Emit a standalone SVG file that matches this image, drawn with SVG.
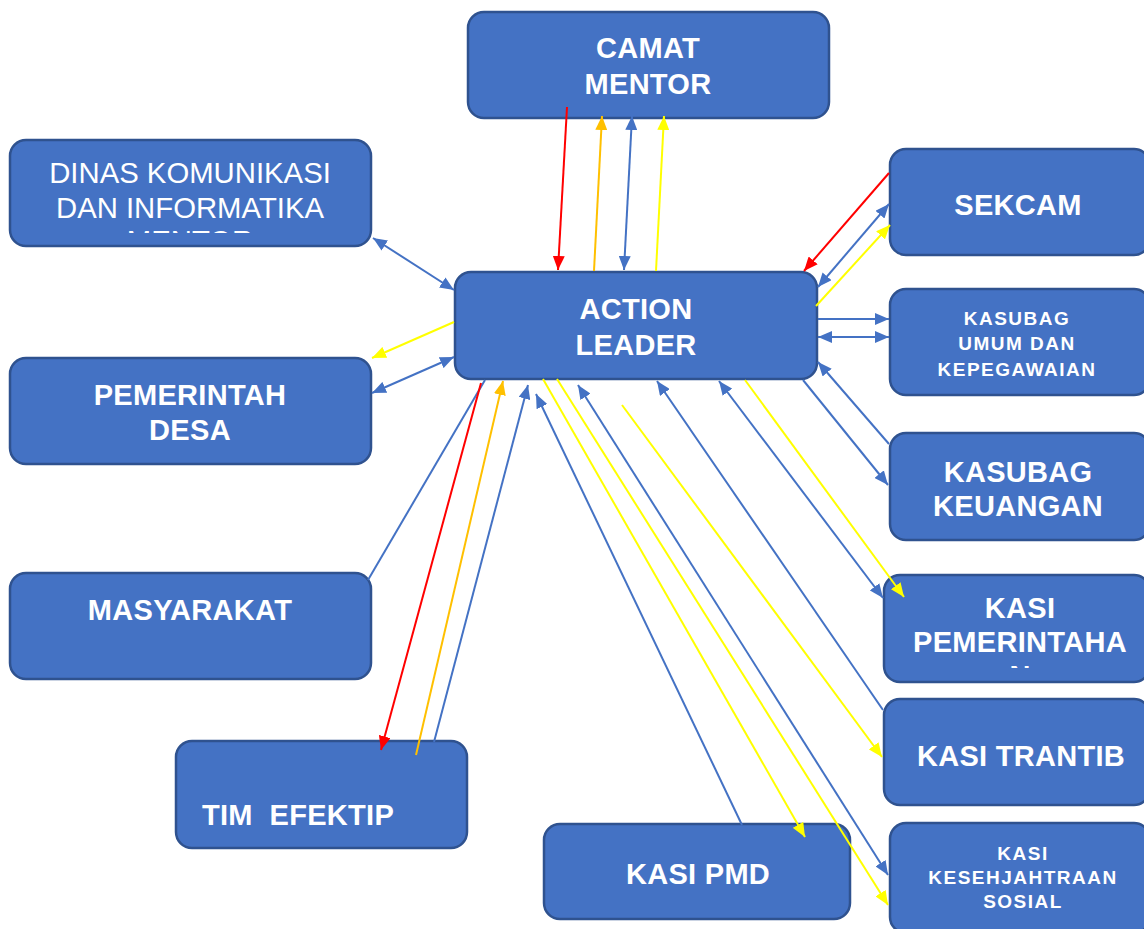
<svg xmlns="http://www.w3.org/2000/svg" width="1144" height="929" viewBox="0 0 1144 929">
<style>
.box{fill:#4472C4;stroke:#2F528F;stroke-width:2.5}
.t{font-family:"Liberation Sans",Arial,sans-serif;font-weight:bold;font-size:29px;letter-spacing:0.3px;fill:#fff;text-anchor:middle}
.tn{font-family:"Liberation Sans",Arial,sans-serif;font-size:29.3px;fill:#fff;text-anchor:middle}
.ts{font-family:"Liberation Sans",Arial,sans-serif;font-weight:bold;font-size:19px;letter-spacing:1.5px;fill:#fff;text-anchor:middle}
.c{fill:none;stroke-width:2}
.b{stroke:#4472C4}.r{stroke:#FF0000}.o{stroke:#FFC000}.y{stroke:#FFFF00}
</style>
<defs>
<marker id="mb" viewBox="0 0 14 12" refX="14" refY="6" markerWidth="14" markerHeight="12" markerUnits="userSpaceOnUse" orient="auto-start-reverse"><path d="M0,0 L14,6 L0,12 z" fill="#4472C4"/></marker>
<marker id="mr" viewBox="0 0 14 12" refX="14" refY="6" markerWidth="14" markerHeight="12" markerUnits="userSpaceOnUse" orient="auto-start-reverse"><path d="M0,0 L14,6 L0,12 z" fill="#FF0000"/></marker>
<marker id="mo" viewBox="0 0 14 12" refX="14" refY="6" markerWidth="14" markerHeight="12" markerUnits="userSpaceOnUse" orient="auto-start-reverse"><path d="M0,0 L14,6 L0,12 z" fill="#FFC000"/></marker>
<marker id="my" viewBox="0 0 14 12" refX="14" refY="6" markerWidth="14" markerHeight="12" markerUnits="userSpaceOnUse" orient="auto-start-reverse"><path d="M0,0 L14,6 L0,12 z" fill="#FFFF00"/></marker>
<clipPath id="clipDinas"><rect x="10" y="140" width="362" height="93"/></clipPath>
<clipPath id="clipPem"><rect x="884" y="575" width="260" height="93"/></clipPath>
</defs>
<rect width="1144" height="929" fill="#fff"/>

<g id="camat"><rect class="box" x="468" y="12" width="361" height="106" rx="16"/>
<text class="t" x="648" y="58">CAMAT</text><text class="t" x="648" y="94">MENTOR</text></g>

<g id="dinas"><rect class="box" x="10" y="140" width="361" height="106" rx="16"/>
<g clip-path="url(#clipDinas)"><text class="tn" x="190" y="183">DINAS KOMUNIKASI</text><text class="tn" x="190" y="218">DAN INFORMATIKA</text><text class="tn" x="190" y="251">MENTOR</text></g></g>

<g id="action"><rect class="box" x="455" y="272" width="362" height="107" rx="16"/>
<text class="t" x="636" y="319">ACTION</text><text class="t" x="636" y="355">LEADER</text></g>

<g id="desa"><rect class="box" x="10" y="358" width="361" height="106" rx="16"/>
<text class="t" x="190" y="405">PEMERINTAH</text><text class="t" x="190" y="440">DESA</text></g>

<g id="masyarakat"><rect class="box" x="10" y="573" width="361" height="106" rx="16"/>
<text class="t" x="190" y="620">MASYARAKAT</text></g>

<g id="tim"><rect class="box" x="176" y="741" width="291" height="107" rx="16"/>
<text class="t" x="202" y="825" style="text-anchor:start" xml:space="preserve">TIM  EFEKTIP</text></g>

<g id="pmd"><rect class="box" x="544" y="824" width="306" height="95" rx="16"/>
<text class="t" x="698" y="884">KASI PMD</text></g>

<g id="sekcam"><rect class="box" x="890" y="149" width="260" height="106" rx="16"/>
<text class="t" x="1018" y="215">SEKCAM</text></g>

<g id="umum"><rect class="box" x="890" y="289" width="260" height="106" rx="16"/>
<text class="ts" x="1017" y="325">KASUBAG</text><text class="ts" x="1017" y="350">UMUM DAN</text><text class="ts" x="1017" y="376">KEPEGAWAIAN</text></g>

<g id="keuangan"><rect class="box" x="890" y="433" width="260" height="107" rx="16"/>
<text class="t" x="1018" y="482">KASUBAG</text><text class="t" x="1018" y="516">KEUANGAN</text></g>

<g id="pemerintahan"><rect class="box" x="884" y="575" width="266" height="107" rx="16"/>
<g clip-path="url(#clipPem)"><text class="t" x="1020" y="618">KASI</text><text class="t" x="1020" y="652">PEMERINTAHA</text><text class="t" x="1020" y="686">N</text></g></g>

<g id="trantib"><rect class="box" x="884" y="699" width="266" height="106" rx="16"/>
<text class="t" x="1021" y="766">KASI TRANTIB</text></g>

<g id="kesos"><rect class="box" x="890" y="823" width="260" height="110" rx="16"/>
<text class="ts" x="1023" y="860">KASI</text><text class="ts" x="1023" y="884">KESEHJAHTRAAN</text><text class="ts" x="1023" y="908">SOSIAL</text></g>

<g id="connectors">
<line class="c r" x1="567" y1="107" x2="558" y2="270" marker-end="url(#mr)"/>
<line class="c o" x1="594" y1="271" x2="602" y2="116" marker-end="url(#mo)"/>
<line class="c b" x1="624" y1="270" x2="632" y2="116" marker-start="url(#mb)" marker-end="url(#mb)"/>
<line class="c y" x1="656" y1="271" x2="664" y2="116" marker-end="url(#my)"/>

<line class="c b" x1="373" y1="238" x2="454" y2="290" marker-start="url(#mb)" marker-end="url(#mb)"/>
<line class="c y" x1="454" y1="322" x2="372" y2="358" marker-end="url(#my)"/>
<line class="c b" x1="454" y1="357" x2="372" y2="393" marker-start="url(#mb)" marker-end="url(#mb)"/>

<line class="c b" x1="368" y1="580" x2="485" y2="380"/>
<line class="c r" x1="481" y1="383" x2="381" y2="750" marker-end="url(#mr)"/>
<line class="c o" x1="416" y1="755" x2="503" y2="381" marker-end="url(#mo)"/>
<line class="c b" x1="434" y1="742" x2="528" y2="385" marker-end="url(#mb)"/>

<line class="c b" x1="742" y1="825" x2="536" y2="394" marker-end="url(#mb)"/>
<line class="c y" x1="543" y1="379" x2="805" y2="837" marker-end="url(#my)"/>
<line class="c y" x1="557" y1="379" x2="888" y2="905" marker-end="url(#my)"/>
<line class="c b" x1="578" y1="385" x2="888" y2="875" marker-start="url(#mb)" marker-end="url(#mb)"/>
<line class="c y" x1="622" y1="405" x2="882" y2="757" marker-end="url(#my)"/>
<line class="c b" x1="883" y1="710" x2="657" y2="381" marker-end="url(#mb)"/>
<line class="c b" x1="719" y1="381" x2="883" y2="598" marker-start="url(#mb)" marker-end="url(#mb)"/>
<line class="c y" x1="745" y1="380" x2="904" y2="597" marker-end="url(#my)"/>

<line class="c b" x1="803" y1="380" x2="888" y2="485" marker-end="url(#mb)"/>
<line class="c b" x1="889" y1="444" x2="818" y2="362" marker-end="url(#mb)"/>
<line class="c b" x1="818" y1="319" x2="889" y2="319" marker-end="url(#mb)"/>
<line class="c b" x1="818" y1="337" x2="889" y2="337" marker-start="url(#mb)" marker-end="url(#mb)"/>

<line class="c r" x1="889" y1="173" x2="804" y2="271" marker-end="url(#mr)"/>
<line class="c b" x1="818" y1="287" x2="889" y2="204" marker-start="url(#mb)" marker-end="url(#mb)"/>
<line class="c y" x1="816" y1="306" x2="890" y2="225" marker-end="url(#my)"/>
</g>
</svg>
